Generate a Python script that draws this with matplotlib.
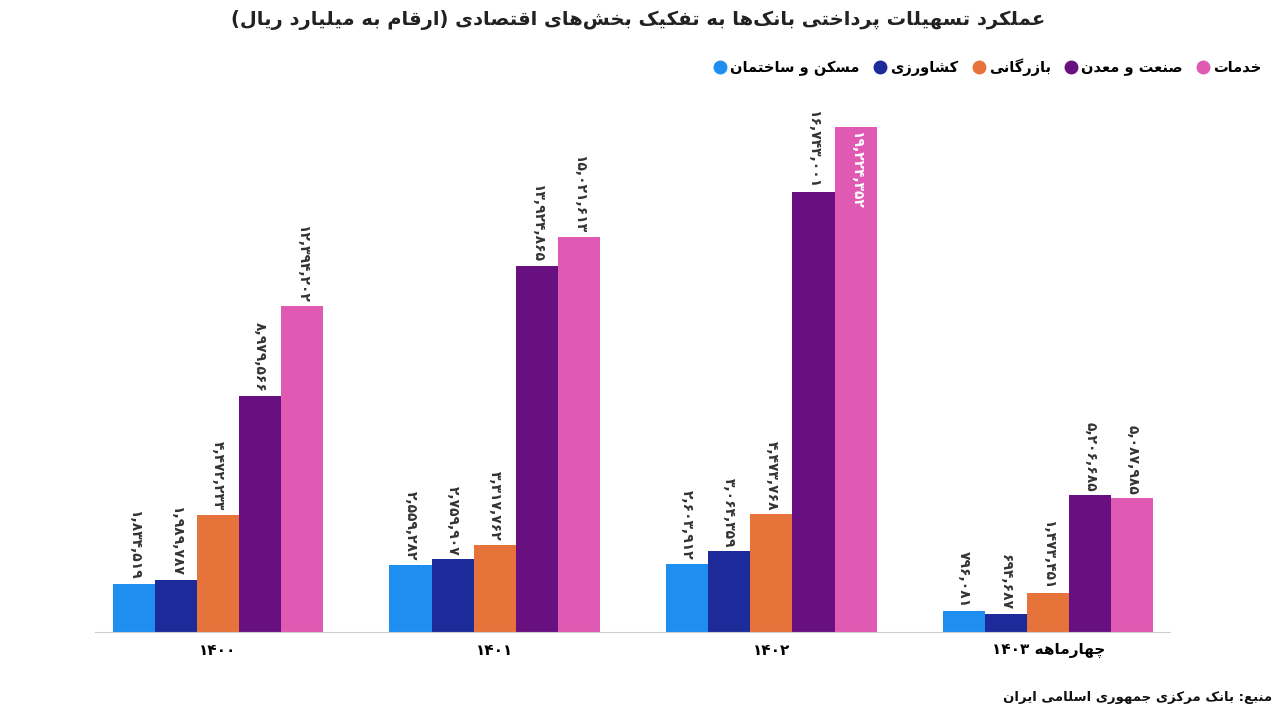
import matplotlib
matplotlib.use("Agg")
import matplotlib.pyplot as plt
from matplotlib.lines import Line2D
import numpy as np

# data (billion rials)
years = ["۱۴۰۰", "۱۴۰۱", "۱۴۰۲", "چهارماهه ۱۴۰۳"]
sectors = ["مسکن و ساختمان", "کشاورزی", "بازرگانی", "صنعت و معدن", "خدمات"]
maskan = [1834519, 2559282, 2603912, 796081]
keshavarzi = [1989787, 2759907, 3064359, 694687]
bazargani = [4472233, 3317762, 4473768, 1473451]
sanat = [8979566, 13924865, 16743001, 5206685]
khadamat = [12394202, 15021613, 19224352, 5087985]
colors = ["#1E8FF0", "#1C2A9A", "#E6733A", "#68107F", "#E05AB4"]

# --- tiny persian shaper (no arabic_reshaper in sandbox) ---
FORMS = {
    "ا": (0xFE8D, 0xFE8E, None, None), "د": (0xFEA9, 0xFEAA, None, None),
    "ر": (0xFEAD, 0xFEAE, None, None), "ز": (0xFEAF, 0xFEB0, None, None),
    "و": (0xFEED, 0xFEEE, None, None),
    "ب": (0xFE8F, 0xFE90, 0xFE91, 0xFE92), "ت": (0xFE95, 0xFE96, 0xFE97, 0xFE98),
    "ج": (0xFE9D, 0xFE9E, 0xFE9F, 0xFEA0), "ح": (0xFEA1, 0xFEA2, 0xFEA3, 0xFEA4),
    "خ": (0xFEA5, 0xFEA6, 0xFEA7, 0xFEA8), "س": (0xFEB1, 0xFEB2, 0xFEB3, 0xFEB4),
    "ش": (0xFEB5, 0xFEB6, 0xFEB7, 0xFEB8), "ص": (0xFEB9, 0xFEBA, 0xFEBB, 0xFEBC),
    "ط": (0xFEC1, 0xFEC2, 0xFEC3, 0xFEC4), "ع": (0xFEC9, 0xFECA, 0xFECB, 0xFECC),
    "ف": (0xFED1, 0xFED2, 0xFED3, 0xFED4), "ق": (0xFED5, 0xFED6, 0xFED7, 0xFED8),
    "ل": (0xFEDD, 0xFEDE, 0xFEDF, 0xFEE0), "م": (0xFEE1, 0xFEE2, 0xFEE3, 0xFEE4),
    "ن": (0xFEE5, 0xFEE6, 0xFEE7, 0xFEE8), "ه": (0xFEE9, 0xFEEA, 0xFEEB, 0xFEEC),
    "ی": (0xFBFC, 0xFBFD, 0xFBFE, 0xFBFF), "ک": (0xFB8E, 0xFB8F, 0xFB90, 0xFB91),
    "گ": (0xFB92, 0xFB93, 0xFB94, 0xFB95), "پ": (0xFB56, 0xFB57, 0xFB58, 0xFB59),
    "چ": (0xFB7A, 0xFB7B, 0xFB7C, 0xFB7D),
}
MIRROR = {"(": ")", ")": "("}


def fa(s):
    out = []
    for i, c in enumerate(s):
        if c not in FORMS:
            if c != "\u200c":
                out.append(MIRROR.get(c, c))
            continue
        prev = s[i - 1] if i > 0 else ""
        nxt = s[i + 1] if i + 1 < len(s) else ""
        jp = prev in FORMS and FORMS[prev][2] is not None
        jn = FORMS[c][2] is not None and nxt in FORMS
        f = FORMS[c]
        code = f[3] if (jp and jn) else f[1] if jp else f[2] if jn else f[0]
        out.append(chr(code))
    # reverse, keep digit runs LTR
    runs, cur, isd = [], "", None
    for ch in out:
        d = "\u06f0" <= ch <= "\u06f9" or ch == ","
        if isd is None or d == isd:
            cur += ch
        else:
            runs.append((cur, isd))
            cur = ch
        isd = d
    runs.append((cur, isd))
    return "".join(r if d else r[::-1] for r, d in reversed(runs))


def fanum(v):
    return "{:,}".format(v).translate(str.maketrans("0123456789", "۰۱۲۳۴۵۶۷۸۹"))


plt.rcParams["font.family"] = "DejaVu Sans"
fig = plt.figure(figsize=(12.76, 7.12), dpi=100)
ax = fig.add_axes([95 / 1276, 80 / 712, 1075 / 1276, 532 / 712])

series = [maskan, keshavarzi, bazargani, sanat, khadamat]
x = np.arange(len(years))
w = 0.152
ymax = 20.25e6
for k, vals in enumerate(series):
    pos = x + (k - 2) * w
    ax.bar(pos, vals, w, color=colors[k])
    for p, v in zip(pos, vals):
        if v > 18.5e6:
            ax.text(p, v - 0.15e6, fanum(v), rotation=270, ha="center", va="top",
                    fontsize=10, fontweight="bold", color="white")
        else:
            ax.text(p, v + 0.15e6, fanum(v), rotation=270, ha="center", va="bottom",
                    fontsize=10, fontweight="bold", color="#333333", clip_on=False)

ax.set_xlim(-0.444, 3.44)
ax.set_ylim(0, ymax)
ax.set_yticks([])
ax.set_xticks(x)
ax.set_xticklabels([fa(y) for y in years], fontsize=11, fontweight="bold")
ax.tick_params(axis="x", length=0, pad=8)
for s in ["top", "right", "left"]:
    ax.spines[s].set_visible(False)
ax.spines["bottom"].set_color("#CCCCCC")

fig.text(0.5, 1 - 20 / 712, fa("عملکرد تسهیلات پرداختی بانک‌ها به تفکیک بخش‌های اقتصادی (ارقام به میلیارد ریال)"),
         ha="center", va="center", fontsize=14, fontweight="bold", color="#222222")
handles = [Line2D([], [], marker="o", ls="none", markersize=9, color=c) for c in colors]
fig.legend(handles, [fa(s) for s in sectors], loc="center right",
           bbox_to_anchor=(1275 / 1276, 1 - 67 / 712), ncol=5, frameon=False,
           handlelength=0.8, columnspacing=1.0, handletextpad=0.3,
           prop={"weight": "bold", "size": 10.5})
fig.text(1 - 4 / 1276, 1 - 697 / 712, fa("منبع: بانک مرکزی جمهوری اسلامی ایران"),
         ha="right", va="center", fontsize=9.5, fontweight="bold", color="#111111")

fig.savefig("out.png", dpi=100)
